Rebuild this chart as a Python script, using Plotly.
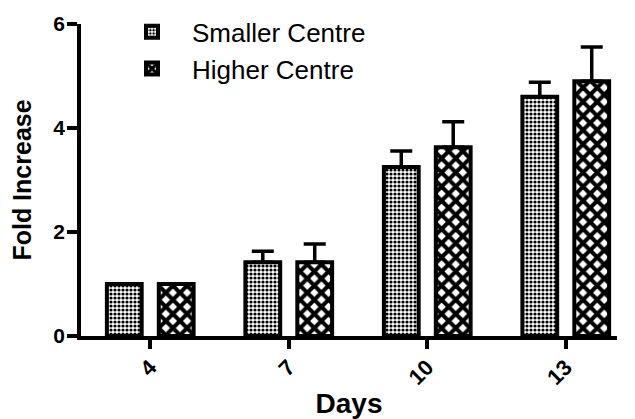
import plotly.graph_objects as go

days = ["4", "7", "10", "13"]
smaller_mean = [1.0, 1.42, 3.25, 4.6]
smaller_err = [0.0, 0.21, 0.31, 0.28]
higher_mean = [1.0, 1.42, 3.63, 4.9]
higher_err = [0.0, 0.35, 0.49, 0.66]
y_ticks = [0, 2, 4, 6]

FONT = "Liberation Sans, Arial, sans-serif"

fig = go.Figure()
fig.add_trace(go.Bar(
    name="Smaller Centre", x=days, y=smaller_mean,
    error_y=dict(type="data", symmetric=False, array=smaller_err,
                 arrayminus=[0] * len(days), color="black", thickness=3.5, width=11),
    marker=dict(color="white", line=dict(color="black", width=4),
                pattern=dict(shape=".", size=4, solidity=0.5, fgcolor="black",
                             bgcolor="white", fillmode="replace")),
))
fig.add_trace(go.Bar(
    name="Higher Centre", x=days, y=higher_mean,
    error_y=dict(type="data", symmetric=False, array=higher_err,
                 arrayminus=[0] * len(days), color="black", thickness=3.5, width=11),
    marker=dict(color="white", line=dict(color="black", width=4),
                pattern=dict(shape="x", size=10, solidity=0.65, fgcolor="black",
                             bgcolor="white", fillmode="replace")),
))

fig.update_layout(
    width=635, height=419,
    margin=dict(l=81, r=18, t=24, b=83, autoexpand=False),
    paper_bgcolor="white", plot_bgcolor="white",
    barmode="group", bargap=0.25, bargroupgap=0.33,
    font=dict(family=FONT, color="black"),
    showlegend=True,
    legend=dict(x=(112 - 81) / 536, y=1.05, xanchor="left", yanchor="top",
                font=dict(size=26, family=FONT, color="black"),
                itemwidth=70, bgcolor="rgba(0,0,0,0)", tracegroupgap=0),
)
fig.update_xaxes(
    type="category", range=[-0.5, 3.37],
    showline=True, linecolor="black", linewidth=3.5,
    ticks="outside", ticklen=9, tickwidth=3.5, tickcolor="black",
    tickangle=-45, tickfont=dict(size=22, family=FONT, weight="bold"),
    ticklabelstandoff=-3,
    showgrid=False, zeroline=False, automargin=False,
    title=dict(text="Days", font=dict(size=28, family=FONT, weight="bold"), standoff=10),
)
fig.update_yaxes(
    range=[0, 6], tickvals=y_ticks,
    showline=True, linecolor="black", linewidth=3.5,
    ticks="outside", ticklen=10, tickwidth=3.5, tickcolor="black",
    tickfont=dict(size=21, family=FONT, weight="bold"),
    ticklabelstandoff=-2,
    showgrid=False, zeroline=False, automargin=False,
    title=dict(text="Fold Increase", font=dict(size=25, family=FONT, weight="bold"), standoff=16),
)

fig.write_html("out.html", config={"displayModeBar": False},
               post_script="document.body.style.margin='0';")
